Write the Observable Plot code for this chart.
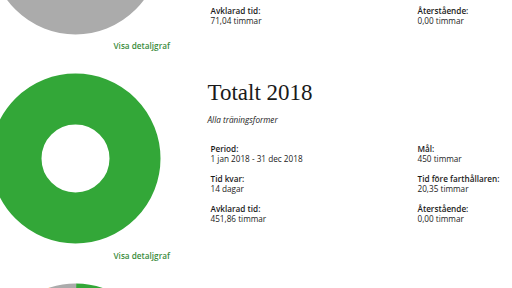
<!DOCTYPE html>
<html>
<head>
<meta charset="utf-8">
<script src="https://cdn.jsdelivr.net/npm/d3@7"></script>
<script src="https://cdn.jsdelivr.net/npm/@observablehq/plot@0.6"></script>
<style>
  html, body { margin: 0; padding: 0; background: #fff; }
  #chart svg { display: block; }
</style>
</head>
<body>
<div id="chart"></div>
<script>
// ---- data ----
const donutCenterX = [75, 75, 75];
const donutCenterY = [-51, 158, 368];

const segmentDonut = [0, 1, 2, 2, 2];
const segmentName  = ["Avklarad", "Avklarad", "Avklarad", "Pågående", "Återstående"];
const segmentShare = [1, 1, 0.76, 0.19, 0.05];
const segmentColor = ["#ababab", "#33a738", "#33a738", "#f5a235", "#ababab"];

const titleText = ["Totalt 2018"];
const subtitleText = ["Alla träningsformer"];

const labelText = ["Avklarad tid:", "Återstående:",
  "Period:", "Tid kvar:", "Avklarad tid:", "Mål:", "Tid före farthållaren:", "Återstående:"];
const valueText = ["71,04 timmar", "0,00 timmar",
  "1 jan 2018 - 31 dec 2018", "14 dagar", "451,86 timmar", "450 timmar", "20,35 timmar", "0,00 timmar"];
const labelX = [210, 417, 210, 210, 210, 417, 417, 417];
const labelY = [13, 13, 151, 181, 211, 151, 181, 211];

const linkText = ["Visa detaljgraf", "Visa detaljgraf"];
const linkY = [48, 258];

// ---- geometry ----
const outerR = 85, innerR = 34;
const ringR = (outerR + innerR) / 2, ringW = outerR - innerR;
const C = 2 * Math.PI * ringR;

const segments = segmentShare.map((share, i) => {
  const d = segmentDonut[i];
  let start = 0;
  for (let j = 0; j < i; j++) if (segmentDonut[j] === d) start += segmentShare[j];
  return {donut: d, name: segmentName[i], share, start, color: segmentColor[i],
          cx: donutCenterX[d], cy: donutCenterY[d]};
});

const segMarks = segments.map(s => {
  const len = s.share * C;
  const pos = (((s.start + 0.75) % 1) * C);
  return Plot.dot([s], {
    x: "cx", y: "cy", r: ringR, fill: "none", stroke: s.color, strokeWidth: ringW,
    strokeDasharray: s.share >= 1 ? null : `${len} ${C - len}`,
    strokeDashoffset: s.share >= 1 ? null : -pos
  });
});

const labels = labelText.map((t, i) => ({t, x: labelX[i], y: labelY[i]}));
const values = valueText.map((t, i) => ({t, x: labelX[i], y: labelY[i] + 10}));
const links = linkText.map((t, i) => ({t, x: 113, y: linkY[i]}));

const font = "'Open Sans', sans-serif";

const chart = Plot.plot({
  width: 512, height: 288,
  margin: 0,
  x: {domain: [0, 512], range: [0, 512], axis: null},
  y: {domain: [0, 288], range: [0, 288], axis: null},
  marks: [
    ...segMarks,
    Plot.text(titleText, {x: () => 207, y: () => 99, text: d => d, textAnchor: "start", lineAnchor: "bottom",
      fontFamily: "'Liberation Serif', serif", fontSize: 23, fill: "#1a1a1a"}),
    Plot.text(subtitleText, {x: () => 207, y: () => 122, text: d => d, textAnchor: "start", lineAnchor: "bottom",
      fontFamily: font, fontStyle: "italic", fontSize: 8.2, fill: "#222"}),
    Plot.text(labels, {x: "x", y: "y", text: "t", textAnchor: "start", lineAnchor: "bottom",
      fontFamily: font, fontWeight: 600, fontSize: 8.2, fill: "#1a1a1a"}),
    Plot.text(values, {x: "x", y: "y", text: "t", textAnchor: "start", lineAnchor: "bottom",
      fontFamily: font, fontSize: 8.2, fill: "#222"}),
    Plot.text(links, {x: "x", y: "y", text: "t", textAnchor: "start", lineAnchor: "bottom",
      fontFamily: font, fontWeight: 600, fontSize: 8.2, fill: "#3b8c3b"})
  ]
});
document.getElementById("chart").appendChild(chart);
</script>
</body>
</html>
